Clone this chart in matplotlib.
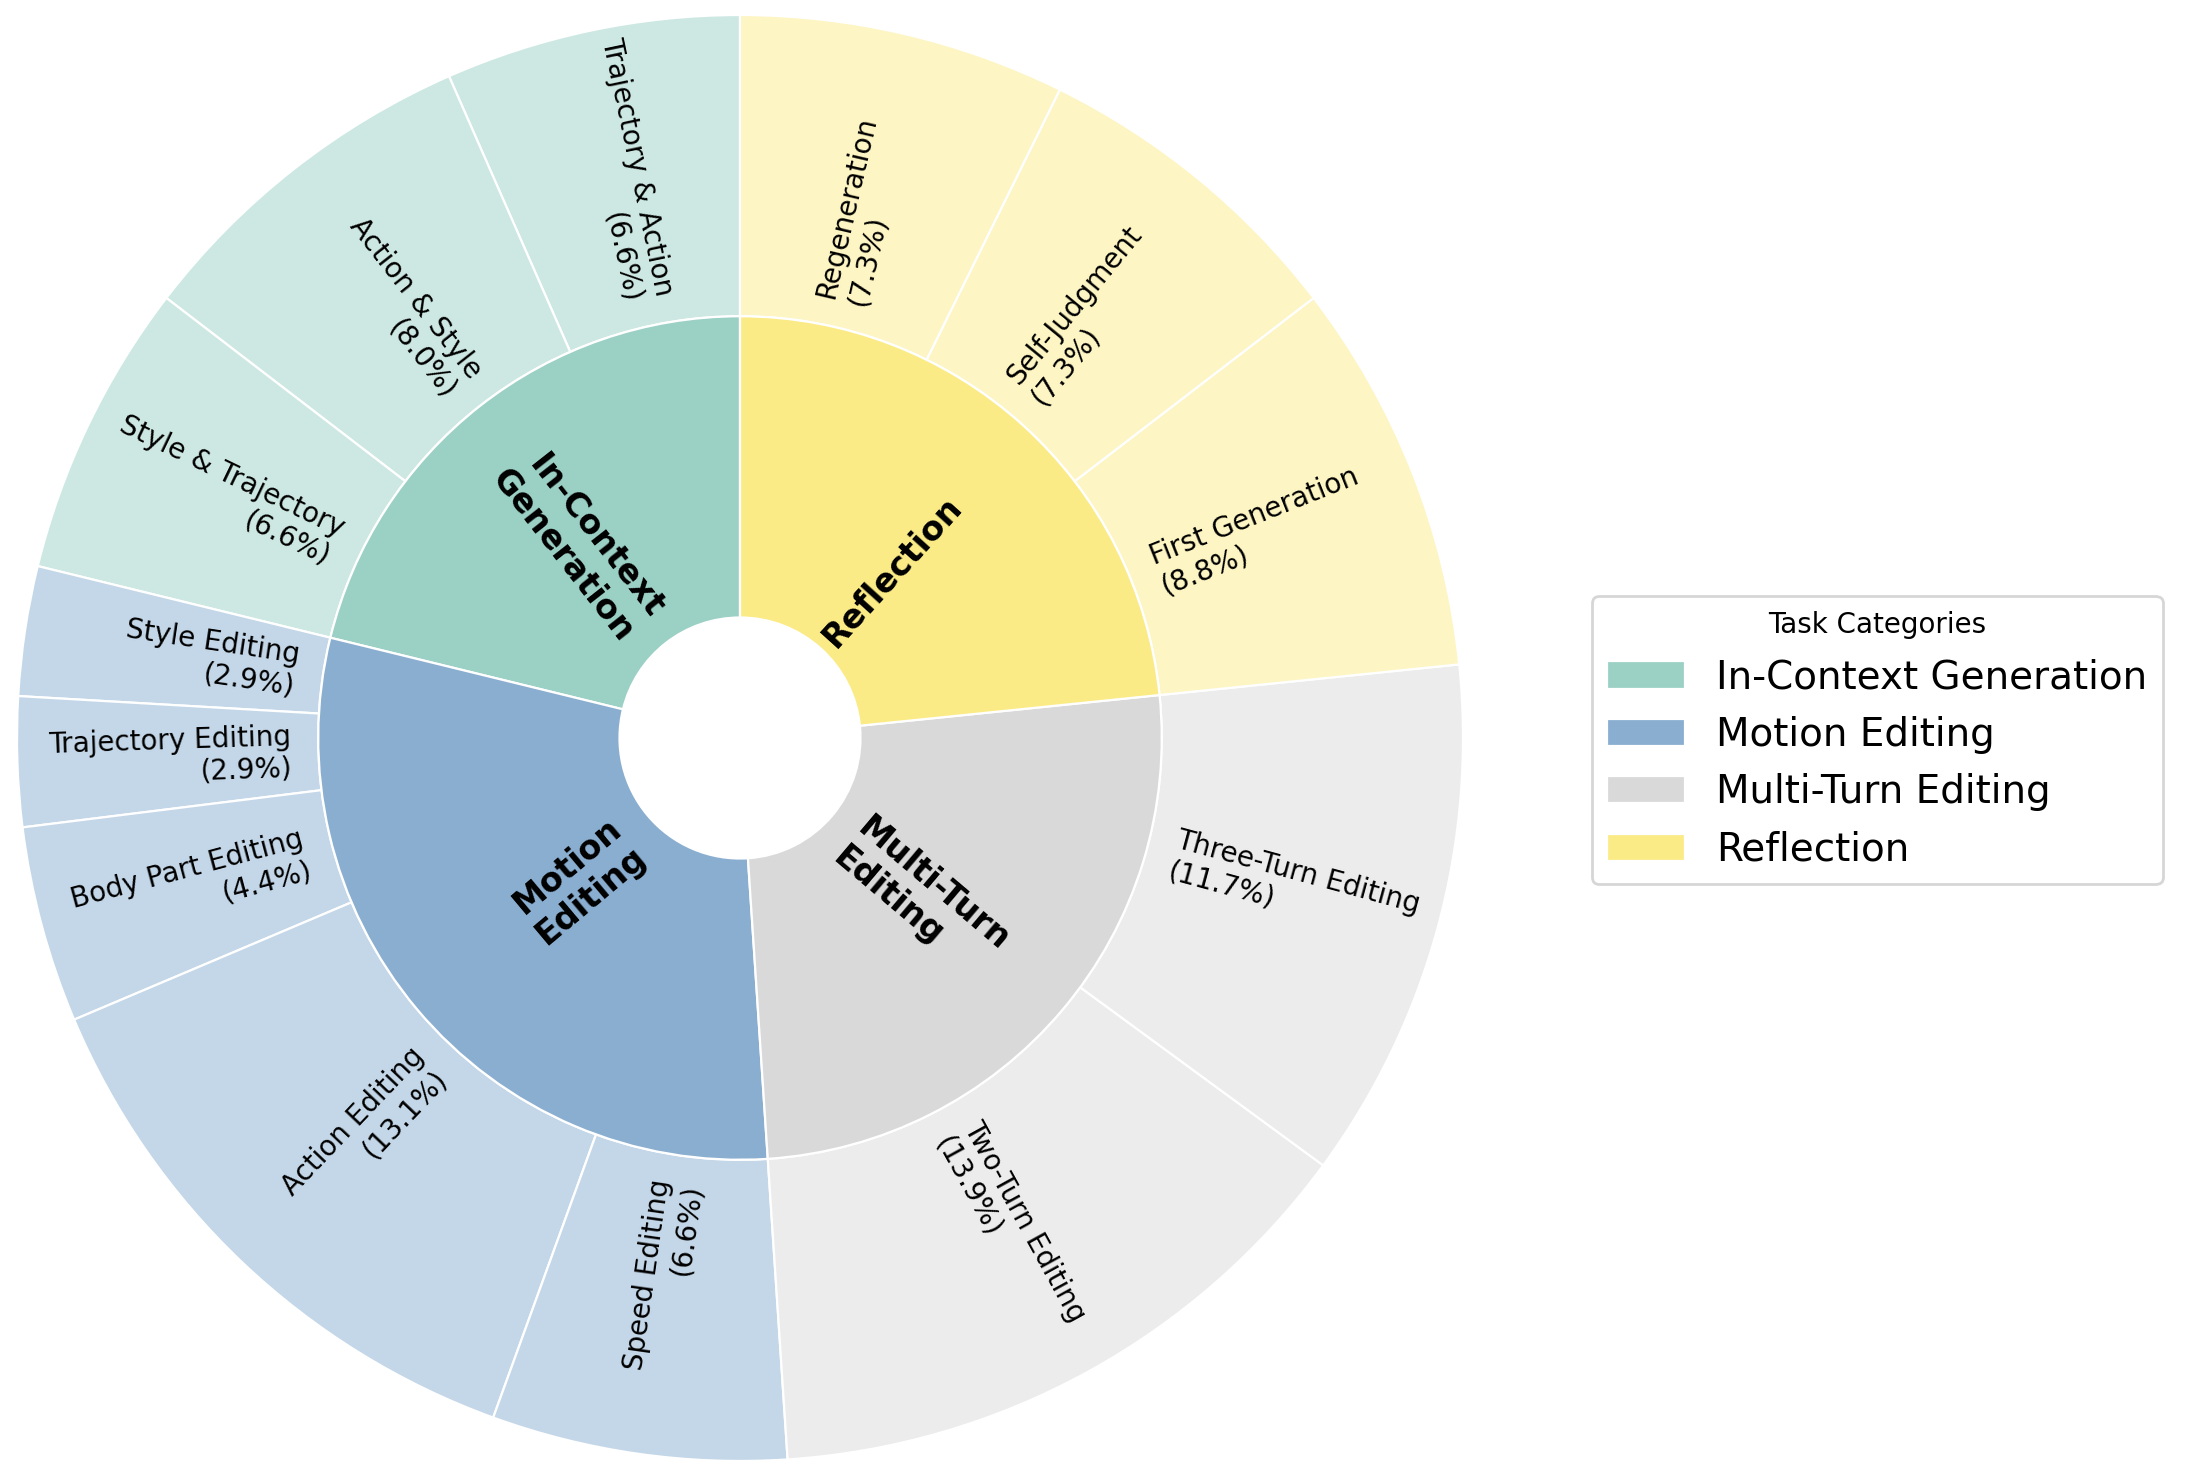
import matplotlib
matplotlib.use("Agg")
import matplotlib.pyplot as plt
from matplotlib.colors import to_rgb

# Task categories (inner ring)
categories = ["In-Context Generation", "Motion Editing", "Multi-Turn Editing", "Reflection"]
category_labels = ["In-Context\nGeneration", "Motion\nEditing", "Multi-Turn\nEditing", "Reflection"]
category_colors = ["#9bd0c5", "#8aaed0", "#d9d9d9", "#fbeb86"]

# Sub-tasks (outer ring), percent of total
sub_names = [
    "Trajectory & Action", "Action & Style", "Style & Trajectory",
    "Style Editing", "Trajectory Editing", "Body Part Editing", "Action Editing", "Speed Editing",
    "Two-Turn Editing", "Three-Turn Editing",
    "First Generation", "Self-Judgment", "Regeneration",
]
sub_pcts = [6.6, 8.0, 6.6,
            2.9, 2.9, 4.4, 13.1, 6.6,
            13.9, 11.7,
            8.8, 7.3, 7.3]
sub_parent = [0, 0, 0,
              1, 1, 1, 1, 1,
              2, 2,
              3, 3, 3]

cat_totals = [sum(p for p, c in zip(sub_pcts, sub_parent) if c == i) for i in range(len(categories))]


def lighten(c, f=0.5):
    r, g, b = to_rgb(c)
    return (r + (1 - r) * f, g + (1 - g) * f, b + (1 - b) * f)


outer_colors = [lighten(category_colors[c]) for c in sub_parent]
outer_labels = [f"{n}\n({p:.1f}%)" for n, p in zip(sub_names, sub_pcts)]

fig = plt.figure(figsize=(10.94, 7.4), dpi=200)
W, H = 2188, 1480
cx, cy, R = 740, 742, 723
ax = fig.add_axes([(cx - R) / W, (cy - R) / H, 2 * R / W, 2 * R / H])

ax.pie(sub_pcts, radius=1.2, colors=outer_colors, labels=outer_labels,
       labeldistance=0.62, rotatelabels=True, startangle=90,
       wedgeprops=dict(width=0.5, edgecolor="white", linewidth=0.8),
       textprops=dict(fontsize=10, rotation_mode="anchor", va="center"))

inner_wedges, _ = ax.pie(cat_totals, radius=0.7, colors=category_colors, labels=category_labels,
                         labeldistance=0.27, rotatelabels=True, startangle=90,
                         wedgeprops=dict(width=0.5, edgecolor="white", linewidth=0.8),
                         textprops=dict(fontsize=12, fontweight="bold"))

ax.set_xlim(-1.2, 1.2)
ax.set_ylim(-1.2, 1.2)
ax.set_aspect("equal")

fig.legend(inner_wedges, categories, title="Task Categories", loc="center left",
           bbox_to_anchor=(0.7185, 0.5), fontsize=14, title_fontsize=10)

fig.savefig("out.png", dpi=200)
